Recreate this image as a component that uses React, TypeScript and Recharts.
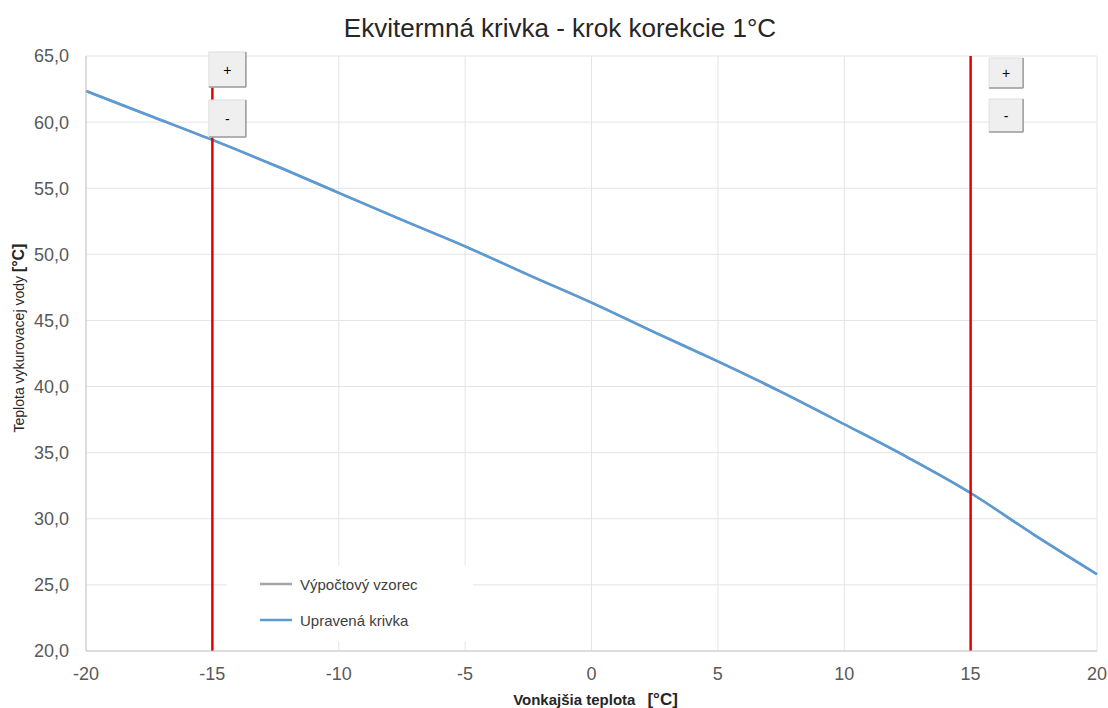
import { CartesianGrid, Legend, Line, LineChart, ReferenceLine, XAxis, YAxis } from "recharts";

const outdoorTemps = [-20, -17.5, -15, -12.5, -10, -7.5, -5, -2.5, 0, 2.5, 5, 7.5, 10, 12.5, 15, 17.5, 20];
const formulaCurve = [62.35, 60.5, 58.65, 56.7, 54.65, 52.6, 50.6, 48.45, 46.35, 44.1, 41.9, 39.6, 37.15, 34.65, 31.95, 28.8, 25.8];
const adjustedCurve = [62.35, 60.5, 58.65, 56.7, 54.65, 52.6, 50.6, 48.45, 46.35, 44.1, 41.9, 39.6, 37.15, 34.65, 31.95, 28.8, 25.8];
const seriesNames = ["Výpočtový vzorec", "Upravená krivka"];
const correctionPoints = [-15, 15];
const xTicks = [-20, -15, -10, -5, 0, 5, 10, 15, 20];
const yTicks = [20, 25, 30, 35, 40, 45, 50, 55, 60, 65];

const data = outdoorTemps.map((t, i) => ({ t, formula: formulaCurve[i], adjusted: adjustedCurve[i] }));

const FONT = "'Liberation Sans', Arial, sans-serif";

function Btn({ x, y, w, h, sign }: { x: number; y: number; w: number; h: number; sign: string }) {
  return (
    <g>
      <rect x={x} y={y} width={w} height={h} fill="#efefef" stroke="#dedede" />
      <line x1={x} y1={y + h} x2={x + w} y2={y + h} stroke="#9c9c9c" strokeWidth={1.5} />
      <line x1={x + w} y1={y} x2={x + w} y2={y + h} stroke="#9c9c9c" strokeWidth={1.5} />
      <text x={x + w / 2} y={y + h / 2 + 5} textAnchor="middle" fontSize={14} fontFamily={FONT} fill="#000">
        {sign}
      </text>
    </g>
  );
}

function Buttons(props: any) {
  const { viewBox, dx, w, h1, h2, top1, top2 } = props;
  if (!viewBox) return null;
  const x = viewBox.x + dx;
  return (
    <g>
      <Btn x={x} y={viewBox.y + top1} w={w} h={h1} sign="+" />
      <Btn x={x} y={viewBox.y + top2} w={w} h={h2} sign="-" />
    </g>
  );
}

const buttonLayout = [
  { dx: -3.5, w: 37, h1: 35, h2: 37, top1: -4, top2: 44 },
  { dx: 18.5, w: 34, h1: 30, h2: 33, top1: 2, top2: 43 },
];

function LegendBox({ payload }: any) {
  const items = [...(payload || [])].sort(
    (a: any, b: any) => seriesNames.indexOf(a.value) - seriesNames.indexOf(b.value)
  );
  return (
    <div style={{ background: "#fff", width: 246, height: 76, paddingTop: 1, boxSizing: "border-box" }}>
      {items.map((p: any) => (
        <div key={p.value} style={{ display: "flex", alignItems: "center", height: 36, paddingLeft: 33 }}>
          <svg width={32} height={4} style={{ marginRight: 8 }}>
            <line x1={0} y1={2} x2={32} y2={2} stroke={p.color} strokeWidth={2.5} />
          </svg>
          <span style={{ fontFamily: FONT, fontSize: 15, color: "#404040" }}>{p.value}</span>
        </div>
      ))}
    </div>
  );
}

export default function App() {
  return (
    <div style={{ position: "relative", width: 1108, height: 708, background: "#fff", fontFamily: FONT }}>
      <style>{"body{margin:0}"}</style>
      <div
        style={{
          position: "absolute",
          top: 14,
          left: 0,
          width: 1120,
          textAlign: "center",
          fontSize: 26,
          lineHeight: "28px",
          color: "#262626",
        }}
      >
        Ekvitermná krivka - krok korekcie 1°C
      </div>
      <LineChart width={1108} height={708} data={data} margin={{ top: 56, right: 11, left: 30, bottom: 27 }}>
        <CartesianGrid stroke="#e4e4e4" strokeWidth={1} />
        <XAxis
          dataKey="t"
          type="number"
          domain={[-20, 20]}
          ticks={xTicks}
          height={30}
          tickLine={false}
          tickMargin={10}
          stroke="#c8c8c8"
          tick={{ fill: "#595959", fontSize: 18, fontFamily: FONT }}
          label={{
            content: ({ viewBox }: any) => (
              <text x={viewBox.x + viewBox.width / 2 + 4} y={705} textAnchor="middle" fontFamily={FONT} fill="#262626" fontWeight="bold">
                <tspan fontSize={15}>Vonkajšia teplota</tspan>
                <tspan fontSize={17} dx={12}>[°C]</tspan>
              </text>
            ),
          }}
        />
        <YAxis
          type="number"
          domain={[20, 65]}
          ticks={yTicks}
          width={56}
          tickLine={false}
          tickMargin={11}
          stroke="#c8c8c8"
          tickFormatter={(v: number) => v.toFixed(1).replace(".", ",")}
          tick={{ fill: "#595959", fontSize: 18, fontFamily: FONT }}
          label={{
            content: () => (
              <text x={24} y={338} transform="rotate(-90 24 338)" textAnchor="middle" fontFamily={FONT} fill="#262626">
                <tspan fontSize={14}>Teplota vykurovacej vody </tspan>
                <tspan fontSize={16} fontWeight="bold">[°C]</tspan>
              </text>
            ),
          }}
        />
        <Legend
          layout="vertical"
          align="center"
          verticalAlign="middle"
          wrapperStyle={{ left: 227, top: 565, width: 246, height: 76 }}
          content={<LegendBox />}
        />
        <Line
          type="monotone"
          dataKey="formula"
          name={seriesNames[0]}
          stroke="#a5a5a5"
          strokeWidth={2.5}
          dot={false}
          isAnimationActive={false}
        />
        <Line
          type="monotone"
          dataKey="adjusted"
          name={seriesNames[1]}
          stroke="#5b9bd5"
          strokeWidth={2.5}
          dot={false}
          isAnimationActive={false}
        />
        {correctionPoints.map((p, i) => (
          <ReferenceLine
            key={p}
            x={p}
            stroke="#e60000"
            strokeWidth={2.5}
            label={<Buttons {...buttonLayout[i]} />}
          />
        ))}
      </LineChart>
    </div>
  );
}
